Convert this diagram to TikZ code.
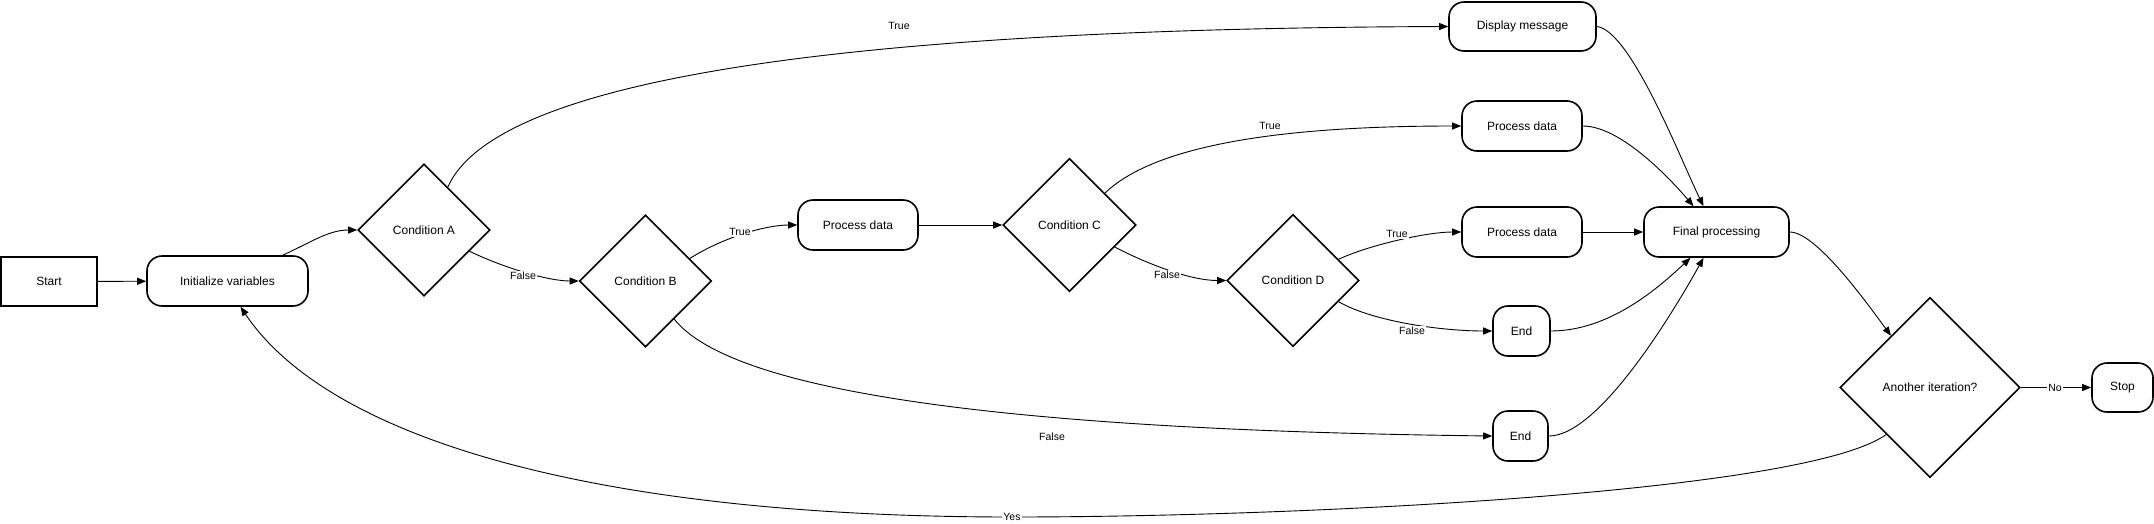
\documentclass[tikz,border=0pt]{standalone}
\usepackage{fontspec}
\setmainfont{Liberation Sans}
\usetikzlibrary{shapes.geometric,arrows.meta}
\begin{document}
\begin{tikzpicture}[x=1pt,y=-1pt,
  nodefont/.style={font=\fontsize{12}{14}\selectfont},
  rbox/.style={draw, line width=1.6pt, rounded corners=15pt, minimum height=50pt, inner sep=0pt, nodefont},
  sqbox/.style={draw, line width=1.6pt, minimum height=49pt, minimum width=96pt, inner sep=0pt, nodefont},
  dia/.style={draw, diamond, aspect=1, line width=1.6pt, minimum width=132pt, minimum height=132pt, inner sep=0pt, nodefont},
  conn/.style={line width=0.9pt, -{Triangle[length=9pt,width=7pt]}},
  lbl/.style={fill=white, inner sep=1pt, font=\fontsize{10.5}{12}\selectfont}
]
\useasboundingbox (0,0) rectangle (2154,523);

% nodes
\node[sqbox] (start) at (49,281.5) {Start};
\node[rbox, minimum width=161pt] (init) at (227.5,281) {Initialize variables};
\node[dia] (condA) at (424,230) {Condition A};
\node[dia] (condB) at (645.5,281) {Condition B};
\node[rbox, minimum width=120pt] (pd1) at (858,225) {Process data};
\node[dia, minimum width=133pt, minimum height=133pt] (condC) at (1069.5,225) {Condition C};
\node[dia] (condD) at (1293,280.5) {Condition D};
\node[rbox, minimum width=147pt, minimum height=49pt] (dm) at (1522.5,26.5) {Display message};
\node[rbox, minimum width=120pt] (pd2) at (1522,126) {Process data};
\node[rbox, minimum width=120pt] (pd3) at (1522,232) {Process data};
\node[rbox, minimum width=57pt] (end1) at (1521.5,331) {End};
\node[rbox, minimum width=55pt] (end2) at (1520.5,436) {End};
\node[rbox, minimum width=145pt] (final) at (1716.5,232) {Final processing};
\node[dia, minimum width=180pt, minimum height=180pt] (another) at (1930,387.5) {Another iteration?};
\node[rbox, minimum width=61pt, minimum height=49pt] (stop) at (2122.5,387.5) {Stop};
\coordinate (yesmid) at (1012,517);

% connectors
\draw[conn] (start) -- (init);
\draw[conn] (init.25) .. controls +(30,-14) and +(-28,0) .. (condA.west);
\draw[conn] (condA.61) .. controls +(52,-117) and +(-549,2) .. (dm.west);
\draw[conn] (condA.-25) .. controls +(35,17) and +(-30,0) .. (condB.west);
\draw[conn] (condB.27) .. controls +(35,-22) and +(-30,0) .. (pd1.west);
\draw[conn] (pd1) -- (condC);
\draw[conn] (condC.42) .. controls +(54,-52) and +(-162,0) .. (pd2.west);
\draw[conn] (condC.-26) .. controls +(35,18) and +(-35,0) .. (condD.west);
\draw[conn] (condD.25) .. controls +(30,-14) and +(-35,0) .. (pd3.west);
\draw[conn] (condD.-25) .. controls +(35,20) and +(-50,0) .. (end1.west);
\draw[conn] (condB.-53) .. controls +(57,72) and +(-493,-6) .. (end2.west);
\draw[conn] (dm.east) .. controls +(34,4) and +(-23,-47) .. ([xshift=-13pt]final.north);
\draw[conn] (pd2.east) .. controls +(38,0) and +(-23,-27) .. ([xshift=-23pt]final.north);
\draw[conn] (pd3) -- (final);
\draw[conn] (end1.east) .. controls +(60,0) and +(-30,28) .. ([xshift=-26pt]final.south);
\draw[conn] (end2.east) .. controls +(52,0) and +(-25,45) .. ([xshift=-13pt]final.south);
\draw[conn] (final.east) .. controls +(26,0) and +(-25,-34) .. (another.127);
\draw[conn] (another) -- (stop);
\draw[conn] (another.227) .. controls +(-80,58) and +(288,0) .. (yesmid)
  .. controls +(-412,0) and +(90,134) .. ([xshift=13pt]init.south);

% labels
\node[lbl] (lTrueA) at (899,26) {True};
\node[lbl] (lFalseA) at (523,276) {False};
\node[lbl] (lTrueB) at (740,232) {True};
\node[lbl] (lTrueC) at (1270,126) {True};
\node[lbl] (lFalseC) at (1167,275) {False};
\node[lbl] (lTrueD) at (1397,234) {True};
\node[lbl] (lFalseD) at (1412,331) {False};
\node[lbl] (lFalseB) at (1052,437) {False};
\node[lbl] (lNo) at (2055,388) {No};
\node[lbl] (lYes) at (yesmid) {Yes};
\end{tikzpicture}
\end{document}
